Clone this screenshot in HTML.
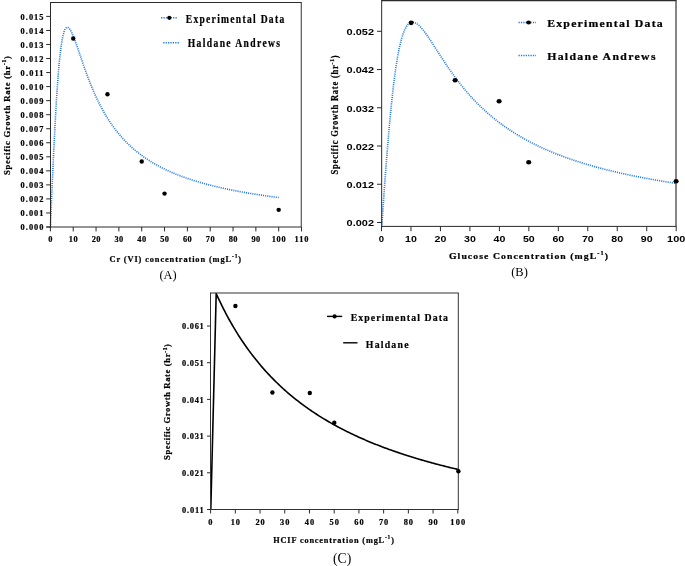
<!DOCTYPE html>
<html><head><meta charset="utf-8"><title>Specific growth rate</title>
<style>html,body{margin:0;padding:0;background:#fff}svg{display:block}text{white-space:pre}</style></head>
<body><svg width="685" height="566" viewBox="0 0 685 566">
<rect width="685" height="566" fill="#fff"/>
<path d="M50.40 227.00 L50.47 225.38 L50.54 223.76 L50.61 222.13 L50.67 220.51 L50.74 218.89 L50.81 217.27 L50.88 215.65 L50.95 214.03 L51.02 212.42 L51.09 210.80 L51.16 209.19 L51.22 207.58 L51.29 205.97 L51.36 204.36 L51.43 202.76 L51.50 201.15 L51.57 199.55 L51.64 197.96 L51.70 196.36 L51.77 194.77 L51.84 193.18 L51.91 191.60 L51.98 190.01 L52.05 188.44 L52.12 186.86 L52.19 185.29 L52.25 183.72 L52.32 182.16 L52.39 180.60 L52.46 179.05 L52.53 177.50 L52.60 175.96 L52.67 174.42 L52.73 172.88 L52.80 171.35 L52.87 169.83 L52.94 168.31 L53.01 166.80 L53.08 165.29 L53.15 163.79 L53.22 162.29 L53.28 160.80 L53.35 159.32 L53.42 157.84 L53.49 156.37 L53.56 154.91 L53.63 153.45 L53.70 152.00 L53.76 150.56 L53.83 149.12 L53.90 147.69 L53.97 146.26 L54.04 144.85 L54.11 143.44 L54.18 142.04 L54.25 140.65 L54.31 139.26 L54.38 137.88 L54.45 136.51 L54.52 135.15 L54.59 133.79 L54.66 132.45 L54.73 131.11 L54.79 129.78 L54.86 128.45 L54.93 127.14 L55.00 125.83 L55.07 124.54 L55.14 123.25 L55.21 121.97 L55.27 120.70 L55.34 119.44 L55.41 118.18 L55.48 116.94 L55.55 115.70 L55.62 114.47 L55.69 113.26 L55.76 112.05 L55.82 110.85 L55.89 109.66 L55.96 108.47 L56.03 107.30 L56.10 106.14 L56.17 104.98 L56.24 103.84 L56.30 102.70 L56.37 101.58 L56.44 100.46 L56.51 99.35 L56.58 98.26 L56.65 97.17 L56.72 96.09 L56.79 95.02 L56.85 93.96 L56.92 92.91 L56.99 91.87 L57.06 90.84 L57.13 89.82 L57.20 88.81 L57.27 87.80 L57.33 86.81 L57.40 85.83 L57.47 84.85 L57.54 83.89 L57.61 82.94 L57.68 81.99 L57.75 81.06 L57.82 80.13 L57.88 79.21 L57.95 78.31 L58.02 77.41 L58.09 76.52 L58.16 75.64 L58.23 74.78 L58.30 73.92 L58.36 73.07 L58.43 72.23 L58.50 71.40 L58.57 70.58 L58.64 69.76 L58.71 68.96 L58.78 68.17 L58.85 67.38 L58.91 66.61 L58.98 65.84 L59.05 65.09 L59.12 64.34 L59.19 63.60 L59.26 62.87 L59.33 62.15 L59.39 61.44 L59.46 60.74 L59.53 60.05 L59.60 59.37 L59.67 58.69 L59.74 58.02 L59.81 57.37 L59.88 56.72 L59.94 56.08 L60.01 55.45 L60.08 54.83 L60.15 54.21 L60.22 53.61 L60.29 53.01 L60.36 52.42 L60.42 51.84 L60.49 51.27 L60.56 50.71 L60.63 50.15 L60.70 49.61 L60.77 49.07 L60.84 48.54 L60.91 48.01 L60.97 47.50 L61.04 46.99 L61.11 46.50 L61.18 46.01 L61.25 45.52 L61.32 45.05 L61.39 44.58 L61.45 44.12 L61.52 43.67 L61.59 43.22 L61.66 42.79 L61.73 42.36 L61.80 41.94 L61.87 41.52 L61.94 41.11 L62.00 40.71 L62.07 40.32 L62.14 39.93 L62.21 39.56 L62.28 39.18 L62.35 38.82 L62.42 38.46 L62.48 38.11 L62.55 37.77 L62.62 37.43 L62.69 37.10 L62.76 36.77 L62.83 36.46 L62.90 36.14 L62.97 35.84 L63.03 35.54 L63.10 35.25 L63.17 34.96 L63.24 34.68 L63.31 34.41 L63.38 34.14 L63.45 33.88 L63.51 33.63 L63.58 33.38 L63.65 33.13 L63.72 32.90 L63.79 32.67 L63.86 32.44 L63.93 32.22 L64.00 32.00 L64.06 31.80 L64.13 31.59 L64.20 31.39 L64.27 31.20 L64.34 31.01 L64.41 30.83 L64.48 30.66 L64.54 30.48 L64.61 30.32 L64.68 30.16 L64.75 30.00 L64.82 29.85 L64.89 29.70 L64.96 29.56 L65.02 29.43 L65.09 29.29 L65.16 29.17 L65.23 29.05 L65.30 28.93 L65.37 28.81 L65.44 28.71 L65.51 28.60 L65.57 28.50 L65.64 28.41 L65.71 28.32 L65.78 28.23 L65.85 28.15 L65.92 28.07 L65.99 28.00 L66.05 27.93 L66.12 27.86 L66.19 27.80 L66.26 27.74 L66.33 27.69 L66.40 27.64 L66.47 27.59 L66.54 27.55 L66.60 27.51 L66.67 27.48 L66.74 27.45 L66.81 27.42 L66.88 27.40 L66.95 27.38 L67.02 27.36 L67.08 27.35 L67.15 27.34 L67.22 27.33 L67.29 27.33 L67.36 27.33 L67.43 27.33 L67.50 27.34 L67.57 27.35 L67.63 27.36 L67.70 27.38 L67.77 27.40 L67.84 27.42 L67.91 27.45 L67.98 27.47 L68.05 27.51 L68.11 27.54 L68.18 27.58 L68.25 27.62 L68.32 27.66 L68.39 27.70 L68.46 27.75 L68.53 27.80 L68.60 27.86 L68.66 27.91 L68.73 27.97 L68.80 28.03 L68.87 28.09 L68.94 28.16 L69.01 28.23 L69.08 28.30 L69.14 28.37 L69.21 28.45 L69.28 28.53 L69.35 28.61 L69.42 28.69 L69.49 28.77 L69.56 28.86 L69.63 28.95 L69.69 29.04 L69.76 29.13 L69.83 29.23 L69.90 29.32 L69.97 29.42 L70.04 29.52 L70.11 29.63 L70.17 29.73 L70.24 29.84 L70.31 29.95 L70.38 30.06 L70.45 30.17 L70.52 30.28 L70.59 30.40 L70.66 30.52 L70.72 30.64 L70.79 30.76 L70.86 30.88 L70.93 31.00 L71.00 31.13 L71.07 31.26 L71.14 31.39 L71.20 31.52 L71.27 31.65 L71.34 31.78 L71.41 31.92 L71.48 32.06 L71.55 32.19 L71.62 32.33 L71.69 32.47 L71.75 32.62 L71.82 32.76 L71.89 32.90 L71.96 33.05 L72.03 33.20 L72.10 33.35 L72.17 33.50 L72.23 33.65 L72.30 33.80 L72.37 33.95 L72.44 34.11 L72.51 34.26 L72.58 34.42 L72.65 34.58 L72.72 34.74 L72.78 34.90 L72.85 35.06 L72.92 35.22 L72.99 35.38 L73.06 35.55 L73.13 35.71 L73.20 35.88 L73.26 36.05 L73.33 36.21 L73.40 36.38 L73.47 36.55 L73.54 36.72 L73.61 36.89 L73.68 37.07 L73.74 37.24 L73.81 37.41 L73.88 37.59 L73.95 37.76 L74.02 37.94 L74.09 38.12 L74.16 38.30 L74.23 38.47 L74.29 38.65 L74.36 38.83 L74.43 39.01 L74.50 39.20 L74.57 39.38 L74.64 39.56 L74.71 39.74 L74.77 39.93 L74.84 40.11 L74.91 40.30 L74.98 40.48 L75.05 40.67 L75.12 40.85 L75.19 41.04 L75.26 41.23 L75.32 41.42 L75.39 41.61 L75.46 41.80 L75.53 41.99 L75.60 42.18 L75.67 42.37 L75.74 42.56 L75.80 42.75 L75.87 42.94 L75.94 43.13 L76.01 43.33 L76.08 43.52 L76.15 43.71 L76.22 43.91 L76.29 44.10 L76.35 44.30 L76.42 44.49 L76.49 44.69 L76.56 44.88 L76.63 45.08 L76.70 45.28 L76.77 45.47 L76.83 45.67 L76.90 45.87 L76.97 46.06 L77.04 46.26 L77.11 46.46 L77.18 46.66 L77.25 46.86 L77.32 47.05 L77.38 47.25 L77.45 47.45 L77.52 47.65 L77.59 47.85 L77.66 48.05 L77.73 48.25 L77.80 48.45 L78.30 49.92 L78.80 51.40 L79.31 52.89 L79.81 54.37 L80.31 55.85 L80.82 57.34 L81.32 58.81 L81.82 60.29 L82.33 61.75 L82.83 63.21 L83.33 64.66 L83.84 66.10 L84.34 67.53 L84.85 68.94 L85.35 70.35 L85.85 71.74 L86.36 73.12 L86.86 74.49 L87.36 75.84 L87.87 77.18 L88.37 78.50 L88.87 79.81 L89.38 81.10 L89.88 82.38 L90.38 83.64 L90.89 84.89 L91.39 86.12 L91.89 87.34 L92.40 88.55 L92.90 89.73 L93.41 90.91 L93.91 92.07 L94.41 93.21 L94.92 94.34 L95.42 95.45 L95.92 96.55 L96.43 97.63 L96.93 98.70 L97.43 99.76 L97.94 100.80 L98.44 101.83 L98.94 102.85 L99.45 103.85 L99.95 104.84 L100.45 105.81 L100.96 106.77 L101.46 107.72 L101.96 108.66 L102.47 109.58 L102.97 110.50 L103.48 111.40 L103.98 112.28 L104.48 113.16 L104.99 114.02 L105.49 114.88 L105.99 115.72 L106.50 116.55 L107.00 117.37 L107.50 118.18 L108.01 118.98 L108.51 119.77 L109.01 120.55 L109.52 121.31 L110.02 122.07 L110.52 122.82 L111.03 123.56 L111.53 124.29 L112.04 125.01 L112.54 125.72 L113.04 126.43 L113.55 127.12 L114.05 127.80 L114.55 128.48 L115.06 129.15 L115.56 129.81 L116.06 130.46 L116.57 131.10 L117.07 131.74 L117.57 132.37 L118.08 132.99 L118.58 133.60 L119.08 134.21 L119.59 134.81 L120.09 135.40 L120.60 135.98 L121.10 136.56 L121.60 137.13 L122.11 137.69 L122.61 138.25 L123.11 138.80 L123.62 139.35 L124.12 139.89 L124.62 140.42 L125.13 140.94 L125.63 141.46 L126.13 141.98 L126.64 142.49 L127.14 142.99 L127.64 143.49 L128.15 143.98 L128.65 144.46 L129.15 144.95 L129.66 145.42 L130.16 145.89 L130.67 146.36 L131.17 146.82 L131.67 147.27 L132.18 147.72 L132.68 148.17 L133.18 148.61 L133.69 149.04 L134.19 149.48 L134.69 149.90 L135.20 150.33 L135.70 150.74 L136.20 151.16 L136.71 151.57 L137.21 151.97 L137.71 152.37 L138.22 152.77 L138.72 153.16 L139.23 153.55 L139.73 153.94 L140.23 154.32 L140.74 154.70 L141.24 155.07 L141.74 155.44 L142.25 155.81 L142.75 156.17 L143.25 156.53 L143.76 156.88 L144.26 157.24 L144.76 157.58 L145.27 157.93 L145.77 158.27 L146.27 158.61 L146.78 158.95 L147.28 159.28 L147.79 159.61 L148.29 159.94 L148.79 160.26 L149.30 160.58 L149.80 160.90 L150.30 161.21 L150.81 161.52 L151.31 161.83 L151.81 162.14 L152.32 162.44 L152.82 162.74 L153.32 163.04 L153.83 163.33 L154.33 163.63 L154.83 163.92 L155.34 164.20 L155.84 164.49 L156.34 164.77 L156.85 165.05 L157.35 165.33 L157.86 165.60 L158.36 165.87 L158.86 166.14 L159.37 166.41 L159.87 166.68 L160.37 166.94 L160.88 167.20 L161.38 167.46 L161.88 167.72 L162.39 167.97 L162.89 168.22 L163.39 168.47 L163.90 168.72 L164.40 168.97 L164.90 169.21 L165.41 169.46 L165.91 169.70 L166.42 169.93 L166.92 170.17 L167.42 170.40 L167.93 170.64 L168.43 170.87 L168.93 171.10 L169.44 171.32 L169.94 171.55 L170.44 171.77 L170.95 171.99 L171.45 172.21 L171.95 172.43 L172.46 172.65 L172.96 172.86 L173.46 173.08 L173.97 173.29 L174.47 173.50 L174.98 173.71 L175.48 173.91 L175.98 174.12 L176.49 174.32 L176.99 174.52 L177.49 174.73 L178.00 174.92 L178.50 175.12 L179.00 175.32 L179.51 175.51 L180.01 175.71 L180.51 175.90 L181.02 176.09 L181.52 176.28 L182.02 176.46 L182.53 176.65 L183.03 176.84 L183.53 177.02 L184.04 177.20 L184.54 177.38 L185.05 177.56 L185.55 177.74 L186.05 177.92 L186.56 178.09 L187.06 178.27 L187.56 178.44 L188.07 178.61 L188.57 178.79 L189.07 178.96 L189.58 179.12 L190.08 179.29 L190.58 179.46 L191.09 179.62 L191.59 179.79 L192.09 179.95 L192.60 180.11 L193.10 180.27 L193.61 180.43 L194.11 180.59 L194.61 180.75 L195.12 180.91 L195.62 181.06 L196.12 181.22 L196.63 181.37 L197.13 181.52 L197.63 181.67 L198.14 181.82 L198.64 181.97 L199.14 182.12 L199.65 182.27 L200.15 182.42 L200.65 182.56 L201.16 182.71 L201.66 182.85 L202.17 182.99 L202.67 183.13 L203.17 183.28 L203.68 183.42 L204.18 183.55 L204.68 183.69 L205.19 183.83 L205.69 183.97 L206.19 184.10 L206.70 184.24 L207.20 184.37 L207.70 184.51 L208.21 184.64 L208.71 184.77 L209.21 184.90 L209.72 185.03 L210.22 185.16 L210.72 185.29 L211.23 185.42 L211.73 185.54 L212.24 185.67 L212.74 185.79 L213.24 185.92 L213.75 186.04 L214.25 186.17 L214.75 186.29 L215.26 186.41 L215.76 186.53 L216.26 186.65 L216.77 186.77 L217.27 186.89 L217.77 187.01 L218.28 187.13 L218.78 187.24 L219.28 187.36 L219.79 187.47 L220.29 187.59 L220.80 187.70 L221.30 187.82 L221.80 187.93 L222.31 188.04 L222.81 188.15 L223.31 188.26 L223.82 188.37 L224.32 188.48 L224.82 188.59 L225.33 188.70 L225.83 188.81 L226.33 188.92 L226.84 189.02 L227.34 189.13 L227.84 189.24 L228.35 189.34 L228.85 189.44 L229.36 189.55 L229.86 189.65 L230.36 189.75 L230.87 189.86 L231.37 189.96 L231.87 190.06 L232.38 190.16 L232.88 190.26 L233.38 190.36 L233.89 190.46 L234.39 190.56 L234.89 190.65 L235.40 190.75 L235.90 190.85 L236.40 190.94 L236.91 191.04 L237.41 191.13 L237.91 191.23 L238.42 191.32 L238.92 191.42 L239.43 191.51 L239.93 191.60 L240.43 191.70 L240.94 191.79 L241.44 191.88 L241.94 191.97 L242.45 192.06 L242.95 192.15 L243.45 192.24 L243.96 192.33 L244.46 192.42 L244.96 192.51 L245.47 192.59 L245.97 192.68 L246.47 192.77 L246.98 192.85 L247.48 192.94 L247.99 193.03 L248.49 193.11 L248.99 193.19 L249.50 193.28 L250.00 193.36 L250.50 193.45 L251.01 193.53 L251.51 193.61 L252.01 193.69 L252.52 193.78 L253.02 193.86 L253.52 193.94 L254.03 194.02 L254.53 194.10 L255.03 194.18 L255.54 194.26 L256.04 194.34 L256.55 194.42 L257.05 194.49 L257.55 194.57 L258.06 194.65 L258.56 194.73 L259.06 194.80 L259.57 194.88 L260.07 194.96 L260.57 195.03 L261.08 195.11 L261.58 195.18 L262.08 195.26 L262.59 195.33 L263.09 195.41 L263.59 195.48 L264.10 195.55 L264.60 195.63 L265.10 195.70 L265.61 195.77 L266.11 195.84 L266.62 195.91 L267.12 195.99 L267.62 196.06 L268.13 196.13 L268.63 196.20 L269.13 196.27 L269.64 196.34 L270.14 196.41 L270.64 196.48 L271.15 196.55 L271.65 196.61 L272.15 196.68 L272.66 196.75 L273.16 196.82 L273.66 196.88 L274.17 196.95 L274.67 197.02 L275.18 197.08 L275.68 197.15 L276.18 197.22 L276.69 197.28 L277.19 197.35 L277.69 197.41 L278.20 197.48 L278.70 197.54" fill="none" stroke="#1e78e6" stroke-width="1.65" stroke-dasharray="1.05 1.1" stroke-linejoin="miter"/>
<line x1="50.50" y1="2.00" x2="50.50" y2="227.50" stroke="#2a2a2a" stroke-width="1"/>
<line x1="46.20" y1="227.00" x2="301.80" y2="227.00" stroke="#2a2a2a" stroke-width="1"/>
<line x1="50.50" y1="2.50" x2="301.80" y2="2.50" stroke="#2a2a2a" stroke-width="1"/>
<line x1="301.30" y1="2.50" x2="301.30" y2="227.00" stroke="#555" stroke-width="1.2"/>
<line x1="46.20" y1="227.00" x2="50.50" y2="227.00" stroke="#2a2a2a" stroke-width="1"/>
<text transform="translate(20.60 230.40) scale(0.94 1)" font-family='"Liberation Serif", serif' font-weight="bold" font-size="8.9" fill="#000" stroke="#000" stroke-width="0.22" textLength="24.36" lengthAdjust="spacing">0.000</text>
<line x1="46.20" y1="212.96" x2="50.50" y2="212.96" stroke="#2a2a2a" stroke-width="1"/>
<text transform="translate(20.60 216.36) scale(0.94 1)" font-family='"Liberation Serif", serif' font-weight="bold" font-size="8.9" fill="#000" stroke="#000" stroke-width="0.22" textLength="24.36" lengthAdjust="spacing">0.001</text>
<line x1="46.20" y1="198.92" x2="50.50" y2="198.92" stroke="#2a2a2a" stroke-width="1"/>
<text transform="translate(20.60 202.32) scale(0.94 1)" font-family='"Liberation Serif", serif' font-weight="bold" font-size="8.9" fill="#000" stroke="#000" stroke-width="0.22" textLength="24.36" lengthAdjust="spacing">0.002</text>
<line x1="46.20" y1="184.88" x2="50.50" y2="184.88" stroke="#2a2a2a" stroke-width="1"/>
<text transform="translate(20.60 188.28) scale(0.94 1)" font-family='"Liberation Serif", serif' font-weight="bold" font-size="8.9" fill="#000" stroke="#000" stroke-width="0.22" textLength="24.36" lengthAdjust="spacing">0.003</text>
<line x1="46.20" y1="170.84" x2="50.50" y2="170.84" stroke="#2a2a2a" stroke-width="1"/>
<text transform="translate(20.60 174.24) scale(0.94 1)" font-family='"Liberation Serif", serif' font-weight="bold" font-size="8.9" fill="#000" stroke="#000" stroke-width="0.22" textLength="24.36" lengthAdjust="spacing">0.004</text>
<line x1="46.20" y1="156.80" x2="50.50" y2="156.80" stroke="#2a2a2a" stroke-width="1"/>
<text transform="translate(20.60 160.20) scale(0.94 1)" font-family='"Liberation Serif", serif' font-weight="bold" font-size="8.9" fill="#000" stroke="#000" stroke-width="0.22" textLength="24.36" lengthAdjust="spacing">0.005</text>
<line x1="46.20" y1="142.76" x2="50.50" y2="142.76" stroke="#2a2a2a" stroke-width="1"/>
<text transform="translate(20.60 146.16) scale(0.94 1)" font-family='"Liberation Serif", serif' font-weight="bold" font-size="8.9" fill="#000" stroke="#000" stroke-width="0.22" textLength="24.36" lengthAdjust="spacing">0.006</text>
<line x1="46.20" y1="128.72" x2="50.50" y2="128.72" stroke="#2a2a2a" stroke-width="1"/>
<text transform="translate(20.60 132.12) scale(0.94 1)" font-family='"Liberation Serif", serif' font-weight="bold" font-size="8.9" fill="#000" stroke="#000" stroke-width="0.22" textLength="24.36" lengthAdjust="spacing">0.007</text>
<line x1="46.20" y1="114.68" x2="50.50" y2="114.68" stroke="#2a2a2a" stroke-width="1"/>
<text transform="translate(20.60 118.08) scale(0.94 1)" font-family='"Liberation Serif", serif' font-weight="bold" font-size="8.9" fill="#000" stroke="#000" stroke-width="0.22" textLength="24.36" lengthAdjust="spacing">0.008</text>
<line x1="46.20" y1="100.64" x2="50.50" y2="100.64" stroke="#2a2a2a" stroke-width="1"/>
<text transform="translate(20.60 104.04) scale(0.94 1)" font-family='"Liberation Serif", serif' font-weight="bold" font-size="8.9" fill="#000" stroke="#000" stroke-width="0.22" textLength="24.36" lengthAdjust="spacing">0.009</text>
<line x1="46.20" y1="86.60" x2="50.50" y2="86.60" stroke="#2a2a2a" stroke-width="1"/>
<text transform="translate(20.60 90.00) scale(0.94 1)" font-family='"Liberation Serif", serif' font-weight="bold" font-size="8.9" fill="#000" stroke="#000" stroke-width="0.22" textLength="24.36" lengthAdjust="spacing">0.010</text>
<line x1="46.20" y1="72.56" x2="50.50" y2="72.56" stroke="#2a2a2a" stroke-width="1"/>
<text transform="translate(20.60 75.96) scale(0.94 1)" font-family='"Liberation Serif", serif' font-weight="bold" font-size="8.9" fill="#000" stroke="#000" stroke-width="0.22" textLength="24.36" lengthAdjust="spacing">0.011</text>
<line x1="46.20" y1="58.52" x2="50.50" y2="58.52" stroke="#2a2a2a" stroke-width="1"/>
<text transform="translate(20.60 61.92) scale(0.94 1)" font-family='"Liberation Serif", serif' font-weight="bold" font-size="8.9" fill="#000" stroke="#000" stroke-width="0.22" textLength="24.36" lengthAdjust="spacing">0.012</text>
<line x1="46.20" y1="44.48" x2="50.50" y2="44.48" stroke="#2a2a2a" stroke-width="1"/>
<text transform="translate(20.60 47.88) scale(0.94 1)" font-family='"Liberation Serif", serif' font-weight="bold" font-size="8.9" fill="#000" stroke="#000" stroke-width="0.22" textLength="24.36" lengthAdjust="spacing">0.013</text>
<line x1="46.20" y1="30.44" x2="50.50" y2="30.44" stroke="#2a2a2a" stroke-width="1"/>
<text transform="translate(20.60 33.84) scale(0.94 1)" font-family='"Liberation Serif", serif' font-weight="bold" font-size="8.9" fill="#000" stroke="#000" stroke-width="0.22" textLength="24.36" lengthAdjust="spacing">0.014</text>
<line x1="46.20" y1="16.40" x2="50.50" y2="16.40" stroke="#2a2a2a" stroke-width="1"/>
<text transform="translate(20.60 19.80) scale(0.94 1)" font-family='"Liberation Serif", serif' font-weight="bold" font-size="8.9" fill="#000" stroke="#000" stroke-width="0.22" textLength="24.36" lengthAdjust="spacing">0.015</text>
<line x1="50.40" y1="227.00" x2="50.40" y2="231.40" stroke="#2a2a2a" stroke-width="1"/>
<text transform="translate(48.20 242.10) scale(0.94 1)" font-family='"Liberation Serif", serif' font-weight="bold" font-size="8.9" fill="#000" stroke="#000" stroke-width="0.22" textLength="4.68" lengthAdjust="spacing">0</text>
<line x1="73.23" y1="227.00" x2="73.23" y2="231.40" stroke="#2a2a2a" stroke-width="1"/>
<text transform="translate(68.83 242.10) scale(0.94 1)" font-family='"Liberation Serif", serif' font-weight="bold" font-size="8.9" fill="#000" stroke="#000" stroke-width="0.22" textLength="9.36" lengthAdjust="spacing">10</text>
<line x1="96.06" y1="227.00" x2="96.06" y2="231.40" stroke="#2a2a2a" stroke-width="1"/>
<text transform="translate(91.66 242.10) scale(0.94 1)" font-family='"Liberation Serif", serif' font-weight="bold" font-size="8.9" fill="#000" stroke="#000" stroke-width="0.22" textLength="9.36" lengthAdjust="spacing">20</text>
<line x1="118.89" y1="227.00" x2="118.89" y2="231.40" stroke="#2a2a2a" stroke-width="1"/>
<text transform="translate(114.49 242.10) scale(0.94 1)" font-family='"Liberation Serif", serif' font-weight="bold" font-size="8.9" fill="#000" stroke="#000" stroke-width="0.22" textLength="9.36" lengthAdjust="spacing">30</text>
<line x1="141.72" y1="227.00" x2="141.72" y2="231.40" stroke="#2a2a2a" stroke-width="1"/>
<text transform="translate(137.32 242.10) scale(0.94 1)" font-family='"Liberation Serif", serif' font-weight="bold" font-size="8.9" fill="#000" stroke="#000" stroke-width="0.22" textLength="9.36" lengthAdjust="spacing">40</text>
<line x1="164.55" y1="227.00" x2="164.55" y2="231.40" stroke="#2a2a2a" stroke-width="1"/>
<text transform="translate(160.15 242.10) scale(0.94 1)" font-family='"Liberation Serif", serif' font-weight="bold" font-size="8.9" fill="#000" stroke="#000" stroke-width="0.22" textLength="9.36" lengthAdjust="spacing">50</text>
<line x1="187.38" y1="227.00" x2="187.38" y2="231.40" stroke="#2a2a2a" stroke-width="1"/>
<text transform="translate(182.98 242.10) scale(0.94 1)" font-family='"Liberation Serif", serif' font-weight="bold" font-size="8.9" fill="#000" stroke="#000" stroke-width="0.22" textLength="9.36" lengthAdjust="spacing">60</text>
<line x1="210.21" y1="227.00" x2="210.21" y2="231.40" stroke="#2a2a2a" stroke-width="1"/>
<text transform="translate(205.81 242.10) scale(0.94 1)" font-family='"Liberation Serif", serif' font-weight="bold" font-size="8.9" fill="#000" stroke="#000" stroke-width="0.22" textLength="9.36" lengthAdjust="spacing">70</text>
<line x1="233.04" y1="227.00" x2="233.04" y2="231.40" stroke="#2a2a2a" stroke-width="1"/>
<text transform="translate(228.64 242.10) scale(0.94 1)" font-family='"Liberation Serif", serif' font-weight="bold" font-size="8.9" fill="#000" stroke="#000" stroke-width="0.22" textLength="9.36" lengthAdjust="spacing">80</text>
<line x1="255.87" y1="227.00" x2="255.87" y2="231.40" stroke="#2a2a2a" stroke-width="1"/>
<text transform="translate(251.47 242.10) scale(0.94 1)" font-family='"Liberation Serif", serif' font-weight="bold" font-size="8.9" fill="#000" stroke="#000" stroke-width="0.22" textLength="9.36" lengthAdjust="spacing">90</text>
<line x1="278.70" y1="227.00" x2="278.70" y2="231.40" stroke="#2a2a2a" stroke-width="1"/>
<text transform="translate(271.70 242.10) scale(0.94 1)" font-family='"Liberation Serif", serif' font-weight="bold" font-size="8.9" fill="#000" stroke="#000" stroke-width="0.22" textLength="14.89" lengthAdjust="spacing">100</text>
<line x1="301.53" y1="227.00" x2="301.53" y2="231.40" stroke="#2a2a2a" stroke-width="1"/>
<text transform="translate(294.53 242.10) scale(0.94 1)" font-family='"Liberation Serif", serif' font-weight="bold" font-size="8.9" fill="#000" stroke="#000" stroke-width="0.22" textLength="14.89" lengthAdjust="spacing">110</text>
<ellipse cx="73.23" cy="38.44" rx="2.2" ry="2.2" fill="#000"/>
<ellipse cx="107.47" cy="94.18" rx="2.2" ry="2.2" fill="#000"/>
<ellipse cx="141.72" cy="161.43" rx="2.2" ry="2.2" fill="#000"/>
<ellipse cx="164.55" cy="193.58" rx="2.2" ry="2.2" fill="#000"/>
<ellipse cx="278.70" cy="209.87" rx="2.2" ry="2.2" fill="#000"/>
<text transform="translate(10.10 175.00) rotate(-90) scale(1.0 1)" font-family='"Liberation Serif", serif' font-weight="bold" font-size="8.6" fill="#000" stroke="#000" stroke-width="0.22" textLength="119.00" lengthAdjust="spacing">Specific Growth Rate (hr<tspan font-size="5.68" dy="-3.87">-1</tspan><tspan dy="3.87">)</tspan></text>
<text transform="translate(109.50 261.60) scale(0.94 1)" font-family='"Liberation Serif", serif' font-weight="bold" font-size="8.9" fill="#000" stroke="#000" stroke-width="0.22" textLength="140.00" lengthAdjust="spacing">Cr (VI) concentration (mgL<tspan font-size="5.87" dy="-4.00">-1</tspan><tspan dy="4.00">)</tspan></text>
<text transform="translate(159.50 278.80) scale(1.0 1)" font-family='"Liberation Serif", serif' font-weight="normal" font-size="12.4" fill="#000" textLength="17.20" lengthAdjust="spacing">(A)</text>
<path d="M161.10 17.80 L177.90 17.80" fill="none" stroke="#1e78e6" stroke-width="1.5" stroke-dasharray="1.25 1.15" stroke-linejoin="miter"/>
<ellipse cx="169.30" cy="17.80" rx="2.1" ry="2.1" fill="#000"/>
<path d="M163.20 42.70 L179.90 42.70" fill="none" stroke="#1e78e6" stroke-width="1.5" stroke-dasharray="1.25 1.15" stroke-linejoin="miter"/>
<text transform="translate(185.70 23.30) scale(0.82 1)" font-family='"Liberation Serif", serif' font-weight="bold" font-size="11.7" fill="#000" stroke="#000" stroke-width="0.22" textLength="120.12" lengthAdjust="spacing">Experimental Data</text>
<text transform="translate(187.70 47.20) scale(0.82 1)" font-family='"Liberation Serif", serif' font-weight="bold" font-size="11.7" fill="#000" stroke="#000" stroke-width="0.22" textLength="112.68" lengthAdjust="spacing">Haldane Andrews</text>
<path d="M381.50 226.40 L381.61 226.40 L381.72 226.40 L381.83 225.24 L381.94 223.60 L382.05 221.98 L382.16 220.35 L382.28 218.73 L382.39 217.11 L382.50 215.49 L382.61 213.88 L382.72 212.27 L382.83 210.66 L382.94 209.06 L383.05 207.46 L383.16 205.87 L383.27 204.28 L383.38 202.70 L383.49 201.11 L383.61 199.54 L383.72 197.97 L383.83 196.40 L383.94 194.84 L384.05 193.28 L384.16 191.73 L384.27 190.18 L384.38 188.64 L384.49 187.10 L384.60 185.57 L384.71 184.04 L384.82 182.52 L384.93 181.01 L385.05 179.50 L385.16 177.99 L385.27 176.49 L385.38 175.00 L385.49 173.52 L385.60 172.04 L385.71 170.56 L385.82 169.10 L385.93 167.63 L386.04 166.18 L386.15 164.73 L386.26 163.29 L386.37 161.86 L386.49 160.43 L386.60 159.01 L386.71 157.59 L386.82 156.18 L386.93 154.78 L387.04 153.39 L387.15 152.00 L387.26 150.62 L387.37 149.25 L387.48 147.89 L387.59 146.53 L387.70 145.18 L387.81 143.83 L387.93 142.50 L388.04 141.17 L388.15 139.85 L388.26 138.54 L388.37 137.23 L388.48 135.94 L388.59 134.65 L388.70 133.36 L388.81 132.09 L388.92 130.82 L389.03 129.57 L389.14 128.32 L389.26 127.07 L389.37 125.84 L389.48 124.61 L389.59 123.39 L389.70 122.18 L389.81 120.98 L389.92 119.79 L390.03 118.60 L390.14 117.42 L390.25 116.25 L390.36 115.09 L390.47 113.94 L390.58 112.79 L390.70 111.66 L390.81 110.53 L390.92 109.41 L391.03 108.30 L391.14 107.19 L391.25 106.10 L391.36 105.01 L391.47 103.93 L391.58 102.86 L391.69 101.80 L391.80 100.75 L391.91 99.70 L392.02 98.66 L392.14 97.64 L392.25 96.62 L392.36 95.60 L392.47 94.60 L392.58 93.61 L392.69 92.62 L392.80 91.64 L392.91 90.67 L393.02 89.71 L393.13 88.75 L393.24 87.81 L393.35 86.87 L393.47 85.94 L393.58 85.02 L393.69 84.11 L393.80 83.21 L393.91 82.31 L394.02 81.42 L394.13 80.54 L394.24 79.67 L394.35 78.81 L394.46 77.96 L394.57 77.11 L394.68 76.27 L394.79 75.44 L394.91 74.62 L395.02 73.80 L395.13 73.00 L395.24 72.20 L395.35 71.41 L395.46 70.62 L395.57 69.85 L395.68 69.08 L395.79 68.32 L395.90 67.57 L396.01 66.83 L396.12 66.09 L396.24 65.37 L396.35 64.65 L396.46 63.93 L396.57 63.23 L396.68 62.53 L396.79 61.84 L396.90 61.16 L397.01 60.48 L397.12 59.82 L397.23 59.16 L397.34 58.51 L397.45 57.86 L397.56 57.22 L397.68 56.59 L397.79 55.97 L397.90 55.35 L398.01 54.74 L398.12 54.14 L398.23 53.55 L398.34 52.96 L398.45 52.38 L398.56 51.81 L398.67 51.24 L398.78 50.68 L398.89 50.13 L399.00 49.59 L399.12 49.05 L399.23 48.51 L399.34 47.99 L399.45 47.47 L399.56 46.96 L399.67 46.45 L399.78 45.96 L399.89 45.46 L400.00 44.98 L400.11 44.50 L400.22 44.03 L400.33 43.56 L400.44 43.10 L400.56 42.65 L400.67 42.20 L400.78 41.76 L400.89 41.32 L401.00 40.89 L401.11 40.47 L401.22 40.05 L401.33 39.64 L401.44 39.24 L401.55 38.84 L401.66 38.45 L401.77 38.06 L401.89 37.68 L402.00 37.30 L402.11 36.93 L402.22 36.57 L402.33 36.21 L402.44 35.86 L402.55 35.51 L402.66 35.17 L402.77 34.83 L402.88 34.50 L402.99 34.17 L403.10 33.85 L403.21 33.54 L403.33 33.23 L403.44 32.92 L403.55 32.62 L403.66 32.33 L403.77 32.04 L403.88 31.76 L403.99 31.48 L404.10 31.20 L404.21 30.94 L404.32 30.67 L404.43 30.41 L404.54 30.16 L404.65 29.91 L404.77 29.66 L404.88 29.42 L404.99 29.19 L405.10 28.96 L405.21 28.73 L405.32 28.51 L405.43 28.29 L405.54 28.08 L405.65 27.87 L405.76 27.66 L405.87 27.46 L405.98 27.27 L406.10 27.08 L406.21 26.89 L406.32 26.71 L406.43 26.53 L406.54 26.36 L406.65 26.19 L406.76 26.02 L406.87 25.86 L406.98 25.70 L407.09 25.54 L407.20 25.39 L407.31 25.25 L407.42 25.11 L407.54 24.97 L407.65 24.83 L407.76 24.70 L407.87 24.57 L407.98 24.45 L408.09 24.33 L408.20 24.21 L408.31 24.10 L408.42 23.99 L408.53 23.88 L408.64 23.78 L408.75 23.68 L408.87 23.58 L408.98 23.49 L409.09 23.40 L409.20 23.32 L409.31 23.23 L409.42 23.16 L409.53 23.08 L409.64 23.01 L409.75 22.94 L409.86 22.87 L409.97 22.81 L410.08 22.75 L410.19 22.69 L410.31 22.63 L410.42 22.58 L410.53 22.53 L410.64 22.49 L410.75 22.44 L410.86 22.40 L410.97 22.37 L411.08 22.33 L411.19 22.30 L411.30 22.27 L411.41 22.25 L411.52 22.22 L411.63 22.20 L411.75 22.18 L411.86 22.17 L411.97 22.15 L412.08 22.14 L412.19 22.13 L412.30 22.13 L412.41 22.13 L412.52 22.12 L412.63 22.13 L412.74 22.13 L412.85 22.14 L412.96 22.14 L413.07 22.16 L413.19 22.17 L413.30 22.18 L413.41 22.20 L413.52 22.22 L413.63 22.24 L413.74 22.27 L413.85 22.29 L413.96 22.32 L414.07 22.35 L414.18 22.39 L414.29 22.42 L414.40 22.46 L414.52 22.50 L414.63 22.54 L414.74 22.58 L414.85 22.62 L414.96 22.67 L415.07 22.72 L415.18 22.77 L415.29 22.82 L415.40 22.87 L415.51 22.93 L415.62 22.99 L415.73 23.05 L415.84 23.11 L415.96 23.17 L416.07 23.23 L416.18 23.30 L416.29 23.37 L416.40 23.44 L416.51 23.51 L416.62 23.58 L416.73 23.65 L416.84 23.73 L416.95 23.81 L417.06 23.89 L417.17 23.97 L417.28 24.05 L417.40 24.13 L417.51 24.22 L417.62 24.30 L417.73 24.39 L417.84 24.48 L417.95 24.57 L418.06 24.66 L418.17 24.75 L418.28 24.85 L418.39 24.94 L418.50 25.04 L418.61 25.14 L418.73 25.24 L418.84 25.34 L418.95 25.44 L419.06 25.54 L419.17 25.65 L419.28 25.75 L419.39 25.86 L419.50 25.97 L419.61 26.08 L419.72 26.19 L419.83 26.30 L419.94 26.41 L420.05 26.52 L420.17 26.64 L420.28 26.75 L420.39 26.87 L420.50 26.99 L420.61 27.11 L420.72 27.23 L420.83 27.35 L420.94 27.47 L421.05 27.59 L421.16 27.71 L421.27 27.84 L421.38 27.96 L421.50 28.09 L421.61 28.22 L421.72 28.35 L421.83 28.47 L421.94 28.60 L422.05 28.74 L422.16 28.87 L422.27 29.00 L422.38 29.13 L422.49 29.27 L422.60 29.40 L422.71 29.54 L422.82 29.67 L422.94 29.81 L423.05 29.95 L423.16 30.09 L423.27 30.23 L423.38 30.37 L423.49 30.51 L423.60 30.65 L423.71 30.79 L423.82 30.93 L423.93 31.08 L424.04 31.22 L424.15 31.36 L424.26 31.51 L424.38 31.66 L424.49 31.80 L424.60 31.95 L424.71 32.10 L424.82 32.25 L424.93 32.39 L425.04 32.54 L425.15 32.69 L425.26 32.84 L425.37 33.00 L425.48 33.15 L425.59 33.30 L425.70 33.45 L426.33 34.33 L426.96 35.22 L427.59 36.12 L428.22 37.03 L428.84 37.96 L429.47 38.89 L430.10 39.84 L430.73 40.79 L431.36 41.74 L431.98 42.71 L432.61 43.67 L433.24 44.64 L433.87 45.62 L434.49 46.59 L435.12 47.57 L435.75 48.55 L436.38 49.53 L437.01 50.51 L437.63 51.49 L438.26 52.46 L438.89 53.44 L439.52 54.41 L440.14 55.39 L440.77 56.35 L441.40 57.32 L442.03 58.28 L442.66 59.24 L443.28 60.20 L443.91 61.15 L444.54 62.09 L445.17 63.03 L445.79 63.97 L446.42 64.90 L447.05 65.83 L447.68 66.75 L448.31 67.67 L448.93 68.58 L449.56 69.48 L450.19 70.38 L450.82 71.27 L451.45 72.16 L452.07 73.04 L452.70 73.92 L453.33 74.79 L453.96 75.65 L454.58 76.51 L455.21 77.36 L455.84 78.20 L456.47 79.04 L457.10 79.87 L457.72 80.70 L458.35 81.51 L458.98 82.33 L459.61 83.13 L460.23 83.93 L460.86 84.72 L461.49 85.51 L462.12 86.29 L462.75 87.07 L463.37 87.83 L464.00 88.60 L464.63 89.35 L465.26 90.10 L465.88 90.84 L466.51 91.58 L467.14 92.31 L467.77 93.04 L468.40 93.76 L469.02 94.47 L469.65 95.18 L470.28 95.88 L470.91 96.57 L471.53 97.26 L472.16 97.94 L472.79 98.62 L473.42 99.29 L474.05 99.96 L474.67 100.62 L475.30 101.28 L475.93 101.92 L476.56 102.57 L477.19 103.21 L477.81 103.84 L478.44 104.47 L479.07 105.09 L479.70 105.71 L480.32 106.32 L480.95 106.93 L481.58 107.53 L482.21 108.13 L482.84 108.72 L483.46 109.30 L484.09 109.89 L484.72 110.46 L485.35 111.04 L485.97 111.60 L486.60 112.17 L487.23 112.72 L487.86 113.28 L488.49 113.83 L489.11 114.37 L489.74 114.91 L490.37 115.44 L491.00 115.98 L491.62 116.50 L492.25 117.02 L492.88 117.54 L493.51 118.06 L494.14 118.56 L494.76 119.07 L495.39 119.57 L496.02 120.07 L496.65 120.56 L497.27 121.05 L497.90 121.54 L498.53 122.02 L499.16 122.49 L499.79 122.97 L500.41 123.44 L501.04 123.90 L501.67 124.37 L502.30 124.82 L502.93 125.28 L503.55 125.73 L504.18 126.18 L504.81 126.62 L505.44 127.06 L506.06 127.50 L506.69 127.94 L507.32 128.37 L507.95 128.79 L508.58 129.22 L509.20 129.64 L509.83 130.06 L510.46 130.47 L511.09 130.88 L511.71 131.29 L512.34 131.69 L512.97 132.10 L513.60 132.50 L514.23 132.89 L514.85 133.28 L515.48 133.67 L516.11 134.06 L516.74 134.44 L517.36 134.83 L517.99 135.20 L518.62 135.58 L519.25 135.95 L519.88 136.32 L520.50 136.69 L521.13 137.05 L521.76 137.42 L522.39 137.78 L523.02 138.13 L523.64 138.49 L524.27 138.84 L524.90 139.19 L525.53 139.53 L526.15 139.88 L526.78 140.22 L527.41 140.56 L528.04 140.89 L528.67 141.23 L529.29 141.56 L529.92 141.89 L530.55 142.22 L531.18 142.54 L531.80 142.87 L532.43 143.19 L533.06 143.50 L533.69 143.82 L534.32 144.13 L534.94 144.45 L535.57 144.76 L536.20 145.06 L536.83 145.37 L537.45 145.67 L538.08 145.97 L538.71 146.27 L539.34 146.57 L539.97 146.86 L540.59 147.16 L541.22 147.45 L541.85 147.74 L542.48 148.02 L543.10 148.31 L543.73 148.59 L544.36 148.88 L544.99 149.15 L545.62 149.43 L546.24 149.71 L546.87 149.98 L547.50 150.26 L548.13 150.53 L548.76 150.80 L549.38 151.06 L550.01 151.33 L550.64 151.59 L551.27 151.85 L551.89 152.11 L552.52 152.37 L553.15 152.63 L553.78 152.89 L554.41 153.14 L555.03 153.39 L555.66 153.64 L556.29 153.89 L556.92 154.14 L557.54 154.39 L558.17 154.63 L558.80 154.87 L559.43 155.11 L560.06 155.35 L560.68 155.59 L561.31 155.83 L561.94 156.06 L562.57 156.30 L563.19 156.53 L563.82 156.76 L564.45 156.99 L565.08 157.22 L565.71 157.45 L566.33 157.67 L566.96 157.90 L567.59 158.12 L568.22 158.34 L568.85 158.56 L569.47 158.78 L570.10 159.00 L570.73 159.22 L571.36 159.43 L571.98 159.65 L572.61 159.86 L573.24 160.07 L573.87 160.28 L574.50 160.49 L575.12 160.70 L575.75 160.90 L576.38 161.11 L577.01 161.31 L577.63 161.52 L578.26 161.72 L578.89 161.92 L579.52 162.12 L580.15 162.32 L580.77 162.51 L581.40 162.71 L582.03 162.91 L582.66 163.10 L583.28 163.29 L583.91 163.49 L584.54 163.68 L585.17 163.87 L585.80 164.05 L586.42 164.24 L587.05 164.43 L587.68 164.61 L588.31 164.80 L588.93 164.98 L589.56 165.16 L590.19 165.35 L590.82 165.53 L591.45 165.71 L592.07 165.89 L592.70 166.06 L593.33 166.24 L593.96 166.42 L594.59 166.59 L595.21 166.76 L595.84 166.94 L596.47 167.11 L597.10 167.28 L597.72 167.45 L598.35 167.62 L598.98 167.79 L599.61 167.96 L600.24 168.12 L600.86 168.29 L601.49 168.45 L602.12 168.62 L602.75 168.78 L603.37 168.94 L604.00 169.10 L604.63 169.26 L605.26 169.42 L605.89 169.58 L606.51 169.74 L607.14 169.90 L607.77 170.06 L608.40 170.21 L609.02 170.37 L609.65 170.52 L610.28 170.67 L610.91 170.83 L611.54 170.98 L612.16 171.13 L612.79 171.28 L613.42 171.43 L614.05 171.58 L614.67 171.73 L615.30 171.87 L615.93 172.02 L616.56 172.17 L617.19 172.31 L617.81 172.46 L618.44 172.60 L619.07 172.74 L619.70 172.89 L620.33 173.03 L620.95 173.17 L621.58 173.31 L622.21 173.45 L622.84 173.59 L623.46 173.73 L624.09 173.86 L624.72 174.00 L625.35 174.14 L625.98 174.27 L626.60 174.41 L627.23 174.54 L627.86 174.68 L628.49 174.81 L629.11 174.94 L629.74 175.08 L630.37 175.21 L631.00 175.34 L631.63 175.47 L632.25 175.60 L632.88 175.73 L633.51 175.85 L634.14 175.98 L634.76 176.11 L635.39 176.24 L636.02 176.36 L636.65 176.49 L637.28 176.61 L637.90 176.74 L638.53 176.86 L639.16 176.98 L639.79 177.11 L640.41 177.23 L641.04 177.35 L641.67 177.47 L642.30 177.59 L642.93 177.71 L643.55 177.83 L644.18 177.95 L644.81 178.07 L645.44 178.18 L646.07 178.30 L646.69 178.42 L647.32 178.53 L647.95 178.65 L648.58 178.76 L649.20 178.88 L649.83 178.99 L650.46 179.11 L651.09 179.22 L651.72 179.33 L652.34 179.44 L652.97 179.56 L653.60 179.67 L654.23 179.78 L654.85 179.89 L655.48 180.00 L656.11 180.11 L656.74 180.22 L657.37 180.32 L657.99 180.43 L658.62 180.54 L659.25 180.65 L659.88 180.75 L660.50 180.86 L661.13 180.96 L661.76 181.07 L662.39 181.17 L663.02 181.28 L663.64 181.38 L664.27 181.48 L664.90 181.59 L665.53 181.69 L666.16 181.79 L666.78 181.89 L667.41 182.00 L668.04 182.10 L668.67 182.20 L669.29 182.30 L669.92 182.40 L670.55 182.50 L671.18 182.59 L671.81 182.69 L672.43 182.79 L673.06 182.89 L673.69 182.99 L674.32 183.08 L674.94 183.18 L675.57 183.27 L676.20 183.37" fill="none" stroke="#1e78e6" stroke-width="1.65" stroke-dasharray="1.05 1.1" stroke-linejoin="miter"/>
<line x1="381.66" y1="0.00" x2="381.66" y2="226.90" stroke="#2a2a2a" stroke-width="1"/>
<line x1="381.66" y1="226.40" x2="676.50" y2="226.40" stroke="#2a2a2a" stroke-width="1"/>
<line x1="381.66" y1="0.60" x2="676.50" y2="0.60" stroke="#2a2a2a" stroke-width="1.3"/>
<line x1="676.00" y1="0.00" x2="676.00" y2="226.40" stroke="#444" stroke-width="1.3"/>
<line x1="377.00" y1="222.50" x2="381.70" y2="222.50" stroke="#2a2a2a" stroke-width="1"/>
<text transform="translate(346.60 226.40) scale(1.0 1)" font-family='"Liberation Sans", sans-serif' font-weight="bold" font-size="9.1" fill="#000" textLength="27.40" lengthAdjust="spacingAndGlyphs">0.002</text>
<line x1="377.00" y1="184.26" x2="381.70" y2="184.26" stroke="#2a2a2a" stroke-width="1"/>
<text transform="translate(346.60 188.16) scale(1.0 1)" font-family='"Liberation Sans", sans-serif' font-weight="bold" font-size="9.1" fill="#000" textLength="27.40" lengthAdjust="spacingAndGlyphs">0.012</text>
<line x1="377.00" y1="146.02" x2="381.70" y2="146.02" stroke="#2a2a2a" stroke-width="1"/>
<text transform="translate(346.60 149.92) scale(1.0 1)" font-family='"Liberation Sans", sans-serif' font-weight="bold" font-size="9.1" fill="#000" textLength="27.40" lengthAdjust="spacingAndGlyphs">0.022</text>
<line x1="377.00" y1="107.78" x2="381.70" y2="107.78" stroke="#2a2a2a" stroke-width="1"/>
<text transform="translate(346.60 111.68) scale(1.0 1)" font-family='"Liberation Sans", sans-serif' font-weight="bold" font-size="9.1" fill="#000" textLength="27.40" lengthAdjust="spacingAndGlyphs">0.032</text>
<line x1="377.00" y1="69.54" x2="381.70" y2="69.54" stroke="#2a2a2a" stroke-width="1"/>
<text transform="translate(346.60 73.44) scale(1.0 1)" font-family='"Liberation Sans", sans-serif' font-weight="bold" font-size="9.1" fill="#000" textLength="27.40" lengthAdjust="spacingAndGlyphs">0.042</text>
<line x1="377.00" y1="31.30" x2="381.70" y2="31.30" stroke="#2a2a2a" stroke-width="1"/>
<text transform="translate(346.60 35.20) scale(1.0 1)" font-family='"Liberation Sans", sans-serif' font-weight="bold" font-size="9.1" fill="#000" textLength="27.40" lengthAdjust="spacingAndGlyphs">0.052</text>
<line x1="381.50" y1="226.40" x2="381.50" y2="231.20" stroke="#2a2a2a" stroke-width="1"/>
<text transform="translate(378.85 242.30) scale(1.0 1)" font-family='"Liberation Sans", sans-serif' font-weight="bold" font-size="9.0" fill="#000" textLength="5.30" lengthAdjust="spacingAndGlyphs">0</text>
<line x1="410.97" y1="226.40" x2="410.97" y2="231.20" stroke="#2a2a2a" stroke-width="1"/>
<text transform="translate(405.07 242.30) scale(1.0 1)" font-family='"Liberation Sans", sans-serif' font-weight="bold" font-size="9.0" fill="#000" textLength="11.80" lengthAdjust="spacingAndGlyphs">10</text>
<line x1="440.44" y1="226.40" x2="440.44" y2="231.20" stroke="#2a2a2a" stroke-width="1"/>
<text transform="translate(434.54 242.30) scale(1.0 1)" font-family='"Liberation Sans", sans-serif' font-weight="bold" font-size="9.0" fill="#000" textLength="11.80" lengthAdjust="spacingAndGlyphs">20</text>
<line x1="469.91" y1="226.40" x2="469.91" y2="231.20" stroke="#2a2a2a" stroke-width="1"/>
<text transform="translate(464.01 242.30) scale(1.0 1)" font-family='"Liberation Sans", sans-serif' font-weight="bold" font-size="9.0" fill="#000" textLength="11.80" lengthAdjust="spacingAndGlyphs">30</text>
<line x1="499.38" y1="226.40" x2="499.38" y2="231.20" stroke="#2a2a2a" stroke-width="1"/>
<text transform="translate(493.48 242.30) scale(1.0 1)" font-family='"Liberation Sans", sans-serif' font-weight="bold" font-size="9.0" fill="#000" textLength="11.80" lengthAdjust="spacingAndGlyphs">40</text>
<line x1="528.85" y1="226.40" x2="528.85" y2="231.20" stroke="#2a2a2a" stroke-width="1"/>
<text transform="translate(522.95 242.30) scale(1.0 1)" font-family='"Liberation Sans", sans-serif' font-weight="bold" font-size="9.0" fill="#000" textLength="11.80" lengthAdjust="spacingAndGlyphs">50</text>
<line x1="558.32" y1="226.40" x2="558.32" y2="231.20" stroke="#2a2a2a" stroke-width="1"/>
<text transform="translate(552.42 242.30) scale(1.0 1)" font-family='"Liberation Sans", sans-serif' font-weight="bold" font-size="9.0" fill="#000" textLength="11.80" lengthAdjust="spacingAndGlyphs">60</text>
<line x1="587.79" y1="226.40" x2="587.79" y2="231.20" stroke="#2a2a2a" stroke-width="1"/>
<text transform="translate(581.89 242.30) scale(1.0 1)" font-family='"Liberation Sans", sans-serif' font-weight="bold" font-size="9.0" fill="#000" textLength="11.80" lengthAdjust="spacingAndGlyphs">70</text>
<line x1="617.26" y1="226.40" x2="617.26" y2="231.20" stroke="#2a2a2a" stroke-width="1"/>
<text transform="translate(611.36 242.30) scale(1.0 1)" font-family='"Liberation Sans", sans-serif' font-weight="bold" font-size="9.0" fill="#000" textLength="11.80" lengthAdjust="spacingAndGlyphs">80</text>
<line x1="646.73" y1="226.40" x2="646.73" y2="231.20" stroke="#2a2a2a" stroke-width="1"/>
<text transform="translate(640.83 242.30) scale(1.0 1)" font-family='"Liberation Sans", sans-serif' font-weight="bold" font-size="9.0" fill="#000" textLength="11.80" lengthAdjust="spacingAndGlyphs">90</text>
<line x1="676.20" y1="226.40" x2="676.20" y2="231.20" stroke="#2a2a2a" stroke-width="1"/>
<text transform="translate(667.10 242.30) scale(1.0 1)" font-family='"Liberation Sans", sans-serif' font-weight="bold" font-size="9.0" fill="#000" textLength="18.20" lengthAdjust="spacingAndGlyphs">100</text>
<ellipse cx="411.15" cy="22.85" rx="2.55" ry="2.3" fill="#000"/>
<ellipse cx="455.10" cy="80.30" rx="2.55" ry="2.3" fill="#000"/>
<ellipse cx="499.10" cy="101.20" rx="2.55" ry="2.3" fill="#000"/>
<ellipse cx="528.70" cy="162.30" rx="2.55" ry="2.3" fill="#000"/>
<ellipse cx="676.10" cy="181.20" rx="2.55" ry="2.3" fill="#000"/>
<text transform="translate(337.90 174.40) rotate(-90) scale(0.88 1)" font-family='"Liberation Serif", serif' font-weight="bold" font-size="9.6" fill="#000" stroke="#000" stroke-width="0.22" textLength="135.34" lengthAdjust="spacing">Specific Growth Rate (hr<tspan font-size="6.34" dy="-4.32">-1</tspan><tspan dy="4.32">)</tspan></text>
<text transform="translate(449.00 259.20) scale(1.12 1)" font-family='"Liberation Serif", serif' font-weight="bold" font-size="8.7" fill="#000" stroke="#000" stroke-width="0.22" textLength="141.96" lengthAdjust="spacing">Glucose Concentration (mgL<tspan font-size="5.74" dy="-3.91">-1</tspan><tspan dy="3.91">)</tspan></text>
<text transform="translate(511.20 276.00) scale(1.0 1)" font-family='"Liberation Serif", serif' font-weight="normal" font-size="12.45" fill="#000" textLength="16.60" lengthAdjust="spacing">(B)</text>
<path d="M518.50 22.60 L536.00 22.60" fill="none" stroke="#1e78e6" stroke-width="1.5" stroke-dasharray="1.25 1.15" stroke-linejoin="miter"/>
<ellipse cx="528.60" cy="22.60" rx="2.4" ry="2.0" fill="#000"/>
<path d="M518.50 55.50 L536.00 55.50" fill="none" stroke="#1e78e6" stroke-width="1.5" stroke-dasharray="1.25 1.15" stroke-linejoin="miter"/>
<text transform="translate(547.20 27.10) scale(1.12 1)" font-family='"Liberation Serif", serif' font-weight="bold" font-size="10.5" fill="#000" stroke="#000" stroke-width="0.22" textLength="103.12" lengthAdjust="spacing">Experimental Data</text>
<text transform="translate(547.20 60.30) scale(1.12 1)" font-family='"Liberation Serif", serif' font-weight="bold" font-size="10.5" fill="#000" stroke="#000" stroke-width="0.22" textLength="96.70" lengthAdjust="spacing">Haldane Andrews</text>
<clipPath id="cc"><rect x="205" y="292.7" width="260" height="217.6"/></clipPath>
<path d="M210.80 509.50 L216.20 293.64 L217.41 296.30 L218.63 298.91 L219.84 301.46 L221.06 303.97 L222.27 306.43 L223.48 308.84 L224.70 311.21 L225.91 313.53 L227.13 315.81 L228.34 318.05 L229.55 320.25 L230.77 322.40 L231.98 324.52 L233.20 326.60 L234.41 328.65 L235.63 330.66 L236.84 332.63 L238.05 334.57 L239.27 336.48 L240.48 338.35 L241.70 340.19 L242.91 342.01 L244.12 343.79 L245.34 345.54 L246.55 347.27 L247.77 348.96 L248.98 350.63 L250.19 352.28 L251.41 353.89 L252.62 355.48 L253.84 357.05 L255.05 358.59 L256.26 360.11 L257.48 361.61 L258.69 363.08 L259.91 364.53 L261.12 365.96 L262.33 367.37 L263.55 368.76 L264.76 370.13 L265.98 371.48 L267.19 372.80 L268.41 374.11 L269.62 375.40 L270.83 376.68 L272.05 377.93 L273.26 379.17 L274.48 380.39 L275.69 381.59 L276.90 382.78 L278.12 383.95 L279.33 385.11 L280.55 386.25 L281.76 387.37 L282.97 388.48 L284.19 389.58 L285.40 390.66 L286.62 391.73 L287.83 392.78 L289.04 393.82 L290.26 394.85 L291.47 395.86 L292.69 396.86 L293.90 397.85 L295.11 398.82 L296.33 399.79 L297.54 400.74 L298.76 401.68 L299.97 402.61 L301.18 403.53 L302.40 404.44 L303.61 405.33 L304.83 406.22 L306.04 407.09 L307.26 407.96 L308.47 408.81 L309.68 409.66 L310.90 410.49 L312.11 411.32 L313.33 412.13 L314.54 412.94 L315.75 413.74 L316.97 414.52 L318.18 415.30 L319.40 416.08 L320.61 416.84 L321.82 417.59 L323.04 418.34 L324.25 419.08 L325.47 419.81 L326.68 420.53 L327.89 421.24 L329.11 421.95 L330.32 422.65 L331.54 423.34 L332.75 424.02 L333.96 424.70 L335.18 425.37 L336.39 426.03 L337.61 426.69 L338.82 427.34 L340.04 427.98 L341.25 428.62 L342.46 429.25 L343.68 429.87 L344.89 430.49 L346.11 431.10 L347.32 431.71 L348.53 432.31 L349.75 432.90 L350.96 433.49 L352.18 434.07 L353.39 434.65 L354.60 435.22 L355.82 435.78 L357.03 436.34 L358.25 436.90 L359.46 437.45 L360.67 437.99 L361.89 438.53 L363.10 439.06 L364.32 439.59 L365.53 440.12 L366.74 440.64 L367.96 441.15 L369.17 441.66 L370.39 442.17 L371.60 442.67 L372.82 443.16 L374.03 443.65 L375.24 444.14 L376.46 444.62 L377.67 445.10 L378.89 445.58 L380.10 446.05 L381.31 446.51 L382.53 446.98 L383.74 447.43 L384.96 447.89 L386.17 448.34 L387.38 448.78 L388.60 449.23 L389.81 449.66 L391.03 450.10 L392.24 450.53 L393.45 450.96 L394.67 451.38 L395.88 451.80 L397.10 452.22 L398.31 452.63 L399.52 453.04 L400.74 453.45 L401.95 453.85 L403.17 454.25 L404.38 454.65 L405.59 455.05 L406.81 455.44 L408.02 455.82 L409.24 456.21 L410.45 456.59 L411.67 456.97 L412.88 457.34 L414.09 457.71 L415.31 458.08 L416.52 458.45 L417.74 458.81 L418.95 459.17 L420.16 459.53 L421.38 459.89 L422.59 460.24 L423.81 460.59 L425.02 460.94 L426.23 461.28 L427.45 461.62 L428.66 461.96 L429.88 462.30 L431.09 462.63 L432.30 462.97 L433.52 463.30 L434.73 463.62 L435.95 463.95 L437.16 464.27 L438.37 464.59 L439.59 464.91 L440.80 465.22 L442.02 465.53 L443.23 465.84 L444.45 466.15 L445.66 466.46 L446.87 466.76 L448.09 467.06 L449.30 467.36 L450.52 467.66 L451.73 467.96 L452.94 468.25 L454.16 468.54 L455.37 468.83 L456.59 469.12 L457.80 469.40" fill="none" stroke="#000" stroke-width="1.6" stroke-linejoin="miter" stroke-miterlimit="10" clip-path="url(#cc)"/>
<line x1="210.50" y1="292.50" x2="210.50" y2="510.00" stroke="#333" stroke-width="1"/>
<line x1="210.50" y1="509.50" x2="458.80" y2="509.50" stroke="#333" stroke-width="1"/>
<line x1="210.50" y1="293.00" x2="458.80" y2="293.00" stroke="#333" stroke-width="1"/>
<line x1="458.30" y1="293.00" x2="458.30" y2="509.50" stroke="#333" stroke-width="1"/>
<line x1="207.00" y1="509.50" x2="210.50" y2="509.50" stroke="#2a2a2a" stroke-width="1"/>
<text transform="translate(182.00 512.70) scale(0.94 1)" font-family='"Liberation Serif", serif' font-weight="bold" font-size="8.9" fill="#000" stroke="#000" stroke-width="0.22" textLength="23.19" lengthAdjust="spacing">0.011</text>
<line x1="207.00" y1="472.80" x2="210.50" y2="472.80" stroke="#2a2a2a" stroke-width="1"/>
<text transform="translate(182.00 476.00) scale(0.94 1)" font-family='"Liberation Serif", serif' font-weight="bold" font-size="8.9" fill="#000" stroke="#000" stroke-width="0.22" textLength="23.19" lengthAdjust="spacing">0.021</text>
<line x1="207.00" y1="436.10" x2="210.50" y2="436.10" stroke="#2a2a2a" stroke-width="1"/>
<text transform="translate(182.00 439.30) scale(0.94 1)" font-family='"Liberation Serif", serif' font-weight="bold" font-size="8.9" fill="#000" stroke="#000" stroke-width="0.22" textLength="23.19" lengthAdjust="spacing">0.031</text>
<line x1="207.00" y1="399.40" x2="210.50" y2="399.40" stroke="#2a2a2a" stroke-width="1"/>
<text transform="translate(182.00 402.60) scale(0.94 1)" font-family='"Liberation Serif", serif' font-weight="bold" font-size="8.9" fill="#000" stroke="#000" stroke-width="0.22" textLength="23.19" lengthAdjust="spacing">0.041</text>
<line x1="207.00" y1="362.70" x2="210.50" y2="362.70" stroke="#2a2a2a" stroke-width="1"/>
<text transform="translate(182.00 365.90) scale(0.94 1)" font-family='"Liberation Serif", serif' font-weight="bold" font-size="8.9" fill="#000" stroke="#000" stroke-width="0.22" textLength="23.19" lengthAdjust="spacing">0.051</text>
<line x1="207.00" y1="326.00" x2="210.50" y2="326.00" stroke="#2a2a2a" stroke-width="1"/>
<text transform="translate(182.00 329.20) scale(0.94 1)" font-family='"Liberation Serif", serif' font-weight="bold" font-size="8.9" fill="#000" stroke="#000" stroke-width="0.22" textLength="23.19" lengthAdjust="spacing">0.061</text>
<line x1="210.60" y1="509.50" x2="210.60" y2="513.50" stroke="#2a2a2a" stroke-width="1"/>
<text transform="translate(208.30 524.50) scale(0.94 1)" font-family='"Liberation Serif", serif' font-weight="bold" font-size="8.9" fill="#000" stroke="#000" stroke-width="0.22" textLength="4.89" lengthAdjust="spacing">0</text>
<line x1="235.32" y1="509.50" x2="235.32" y2="513.50" stroke="#2a2a2a" stroke-width="1"/>
<text transform="translate(230.67 524.50) scale(0.94 1)" font-family='"Liberation Serif", serif' font-weight="bold" font-size="8.9" fill="#000" stroke="#000" stroke-width="0.22" textLength="9.89" lengthAdjust="spacing">10</text>
<line x1="260.04" y1="509.50" x2="260.04" y2="513.50" stroke="#2a2a2a" stroke-width="1"/>
<text transform="translate(255.39 524.50) scale(0.94 1)" font-family='"Liberation Serif", serif' font-weight="bold" font-size="8.9" fill="#000" stroke="#000" stroke-width="0.22" textLength="9.89" lengthAdjust="spacing">20</text>
<line x1="284.76" y1="509.50" x2="284.76" y2="513.50" stroke="#2a2a2a" stroke-width="1"/>
<text transform="translate(280.11 524.50) scale(0.94 1)" font-family='"Liberation Serif", serif' font-weight="bold" font-size="8.9" fill="#000" stroke="#000" stroke-width="0.22" textLength="9.89" lengthAdjust="spacing">30</text>
<line x1="309.48" y1="509.50" x2="309.48" y2="513.50" stroke="#2a2a2a" stroke-width="1"/>
<text transform="translate(304.83 524.50) scale(0.94 1)" font-family='"Liberation Serif", serif' font-weight="bold" font-size="8.9" fill="#000" stroke="#000" stroke-width="0.22" textLength="9.89" lengthAdjust="spacing">40</text>
<line x1="334.20" y1="509.50" x2="334.20" y2="513.50" stroke="#2a2a2a" stroke-width="1"/>
<text transform="translate(329.55 524.50) scale(0.94 1)" font-family='"Liberation Serif", serif' font-weight="bold" font-size="8.9" fill="#000" stroke="#000" stroke-width="0.22" textLength="9.89" lengthAdjust="spacing">50</text>
<line x1="358.92" y1="509.50" x2="358.92" y2="513.50" stroke="#2a2a2a" stroke-width="1"/>
<text transform="translate(354.27 524.50) scale(0.94 1)" font-family='"Liberation Serif", serif' font-weight="bold" font-size="8.9" fill="#000" stroke="#000" stroke-width="0.22" textLength="9.89" lengthAdjust="spacing">60</text>
<line x1="383.64" y1="509.50" x2="383.64" y2="513.50" stroke="#2a2a2a" stroke-width="1"/>
<text transform="translate(378.99 524.50) scale(0.94 1)" font-family='"Liberation Serif", serif' font-weight="bold" font-size="8.9" fill="#000" stroke="#000" stroke-width="0.22" textLength="9.89" lengthAdjust="spacing">70</text>
<line x1="408.36" y1="509.50" x2="408.36" y2="513.50" stroke="#2a2a2a" stroke-width="1"/>
<text transform="translate(403.71 524.50) scale(0.94 1)" font-family='"Liberation Serif", serif' font-weight="bold" font-size="8.9" fill="#000" stroke="#000" stroke-width="0.22" textLength="9.89" lengthAdjust="spacing">80</text>
<line x1="433.08" y1="509.50" x2="433.08" y2="513.50" stroke="#2a2a2a" stroke-width="1"/>
<text transform="translate(428.43 524.50) scale(0.94 1)" font-family='"Liberation Serif", serif' font-weight="bold" font-size="8.9" fill="#000" stroke="#000" stroke-width="0.22" textLength="9.89" lengthAdjust="spacing">90</text>
<line x1="457.80" y1="509.50" x2="457.80" y2="513.50" stroke="#2a2a2a" stroke-width="1"/>
<text transform="translate(450.30 524.50) scale(0.94 1)" font-family='"Liberation Serif", serif' font-weight="bold" font-size="8.9" fill="#000" stroke="#000" stroke-width="0.22" textLength="15.96" lengthAdjust="spacing">100</text>
<ellipse cx="235.40" cy="306.00" rx="2.2" ry="2.2" fill="#000"/>
<ellipse cx="272.40" cy="392.50" rx="2.2" ry="2.2" fill="#000"/>
<ellipse cx="309.80" cy="393.00" rx="2.2" ry="2.2" fill="#000"/>
<ellipse cx="334.30" cy="422.80" rx="2.2" ry="2.2" fill="#000"/>
<ellipse cx="458.40" cy="471.20" rx="2.2" ry="2.2" fill="#000"/>
<text transform="translate(170.40 460.00) rotate(-90) scale(1.0 1)" font-family='"Liberation Serif", serif' font-weight="bold" font-size="8.6" fill="#000" stroke="#000" stroke-width="0.22" textLength="116.00" lengthAdjust="spacing">Specific Growth Rate (hr<tspan font-size="5.68" dy="-3.87">-1</tspan><tspan dy="3.87">)</tspan></text>
<text transform="translate(273.30 542.90) scale(0.94 1)" font-family='"Liberation Serif", serif' font-weight="bold" font-size="8.8" fill="#000" stroke="#000" stroke-width="0.22" textLength="128.30" lengthAdjust="spacing">HCIF concentration (mgL<tspan font-size="5.81" dy="-3.96">-1</tspan><tspan dy="3.96">)</tspan></text>
<text transform="translate(332.90 562.70) scale(1.0 1)" font-family='"Liberation Serif", serif' font-weight="normal" font-size="13.7" fill="#000" textLength="18.30" lengthAdjust="spacing">(C)</text>
<line x1="327.00" y1="316.40" x2="342.20" y2="316.40" stroke="#000" stroke-width="1.4"/>
<ellipse cx="334.60" cy="316.40" rx="2.1" ry="2.1" fill="#000"/>
<line x1="343.20" y1="342.80" x2="357.50" y2="342.80" stroke="#000" stroke-width="1.4"/>
<text transform="translate(350.70 321.20) scale(0.86 1)" font-family='"Liberation Serif", serif' font-weight="bold" font-size="11.4" fill="#000" stroke="#000" stroke-width="0.22" textLength="113.14" lengthAdjust="spacing">Experimental Data</text>
<text transform="translate(365.80 347.80) scale(0.86 1)" font-family='"Liberation Serif", serif' font-weight="bold" font-size="11.4" fill="#000" stroke="#000" stroke-width="0.22" textLength="49.65" lengthAdjust="spacing">Haldane</text>
</svg></body></html>
